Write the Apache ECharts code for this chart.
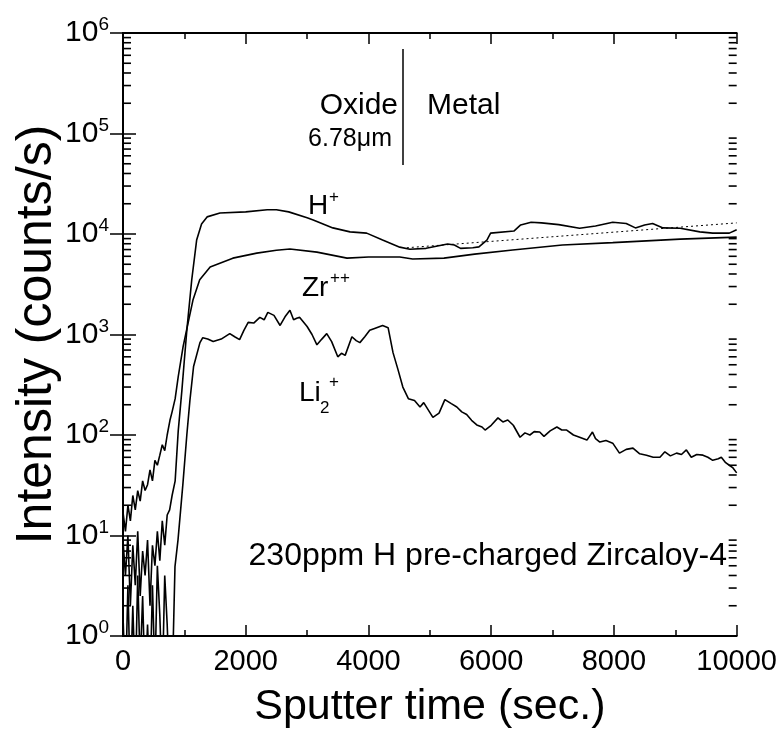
<!DOCTYPE html>
<html>
<head>
<meta charset="utf-8">
<script src="https://cdn.jsdelivr.net/npm/echarts@6/dist/echarts.min.js"></script>
<style>
  html, body { margin: 0; padding: 0; background: #fff; }
  #chart { width: 780px; height: 743px; }
</style>
</head>
<body>
<div id="chart"></div>
<script>
// SIMS depth profile, [sputter time (s), intensity (counts/s)]
const hPlus = [
  [0, 8.9], [40, 4], [80, 10], [120, 2], [160, 8], [200, 3.2], [240, 11], [280, 2.5],
  [320, 7], [360, 4], [400, 9], [440, 2], [480, 8], [520, 5], [560, 11], [600, 5.6],
  [640, 14], [680, 8], [720, 16], [760, 18], [800, 25], [850, 35], [900, 110], [960, 280],
  [1000, 560], [1040, 1100], [1120, 3500], [1200, 8700], [1280, 12600], [1370, 14800],
  [1580, 16200], [2000, 16600], [2350, 17400], [2500, 17400], [2700, 16600], [3000, 14500],
  [3100, 13800], [3420, 11500], [3700, 10500], [3970, 10200], [4230, 8700], [4510, 7400],
  [4675, 7050], [4940, 7200], [5290, 7950], [5400, 7760], [5500, 7200], [5700, 7300],
  [5800, 7450], [5930, 8700], [5990, 10200], [6370, 10700], [6480, 12300], [6650, 13100],
  [6820, 12900], [7100, 12400], [7440, 11400], [7700, 12000], [7980, 13100], [8200, 12700],
  [8350, 11500], [8500, 12300], [8630, 12700], [8800, 11500], [9080, 11400], [9400, 10500],
  [9610, 10200], [9880, 10200], [10000, 11000]
];

const zrPlus = [
  [0, 17], [40, 11], [80, 20], [120, 14], [160, 25], [200, 18], [240, 28], [280, 22],
  [320, 35], [360, 28], [400, 32], [440, 45], [480, 35], [520, 56], [560, 50], [600, 63],
  [640, 80], [680, 70], [720, 100], [765, 140], [800, 170], [850, 230], [900, 380],
  [980, 760], [1060, 1300], [1140, 2200], [1250, 3500], [1420, 4700], [1790, 5750],
  [2180, 6450], [2500, 6900], [2720, 7100], [3160, 6600], [3650, 5750], [4000, 5900],
  [4510, 5900], [4720, 5630], [5230, 5750], [5730, 6300], [6350, 6920], [7160, 7760],
  [7980, 8200], [9080, 8900], [10000, 9300]
];

const li2Plus = [
  [0, 1.6], [40, 0.3], [80, 3.2], [120, 0.3], [160, 2], [200, 0.3], [240, 4], [280, 0.5],
  [320, 2.5], [360, 0.3], [400, 1.3], [440, 0.3], [480, 3.2], [520, 0.4], [560, 5], [600, 1.6],
  [640, 0.3], [680, 4], [720, 1.3], [760, 0.3], [800, 0.3], [847, 4.9], [896, 9], [977, 33],
  [1040, 100], [1090, 220], [1150, 480], [1254, 830], [1300, 930], [1380, 900], [1470, 850],
  [1600, 900], [1740, 1020], [1820, 950], [1900, 890], [1970, 1100], [2040, 1320], [2130, 1300],
  [2230, 1480], [2300, 1400], [2360, 1660], [2460, 1550], [2560, 1230], [2640, 1500],
  [2720, 1740], [2780, 1400], [2830, 1450], [2880, 1480], [3000, 1200], [3080, 1000],
  [3160, 790], [3240, 900], [3320, 1020], [3400, 850], [3500, 600], [3560, 650], [3620, 620],
  [3730, 950], [3800, 870], [3860, 830], [3940, 950], [4020, 1100], [4100, 1150], [4230, 1230],
  [4320, 1170], [4400, 660], [4480, 450], [4560, 300], [4650, 230], [4750, 220], [4840, 190],
  [4900, 210], [5050, 150], [5150, 165], [5245, 225], [5350, 205], [5440, 190], [5520, 170],
  [5600, 160], [5680, 140], [5765, 126], [5850, 120], [5900, 112], [6000, 125], [6110, 148],
  [6190, 135], [6270, 141], [6360, 125], [6470, 95], [6550, 105], [6630, 100], [6700, 108],
  [6790, 107], [6860, 97], [6960, 110], [7070, 120], [7150, 112], [7230, 112], [7340, 100],
  [7440, 95], [7560, 89], [7650, 107], [7700, 92], [7770, 85], [7870, 88], [7980, 83],
  [8090, 66], [8200, 72], [8310, 74], [8420, 65], [8530, 63], [8640, 60], [8750, 60],
  [8830, 68], [8920, 62], [9020, 66], [9100, 64], [9180, 71], [9260, 60], [9350, 64],
  [9450, 63], [9530, 60], [9610, 56], [9700, 58], [9750, 60], [9820, 53], [9880, 50],
  [9940, 47], [10000, 42]
];

// dotted baseline under H+ in the metal
const hBaseline = [[4625, 7300], [10000, 12900]];

// oxide / metal interface marker
const interfaceX = 4560;
const interfaceY = [48600, 692000];

// minor log ticks (2..9 per decade)
const minorYTicks = [
  2, 3, 4, 5, 6, 7, 8, 9,
  20, 30, 40, 50, 60, 70, 80, 90,
  200, 300, 400, 500, 600, 700, 800, 900,
  2000, 3000, 4000, 5000, 6000, 7000, 8000, 9000,
  20000, 30000, 40000, 50000, 60000, 70000, 80000, 90000,
  200000, 300000, 400000, 500000, 600000, 700000, 800000, 900000
];

const FONT = '"Liberation Sans", Arial, sans-serif';
const chart = echarts.init(document.getElementById('chart'));

const yAxisBase = {
  type: 'log',
  logBase: 10,
  min: 1,
  max: 1000000,
  splitNumber: 6,
  axisLine: { show: true, lineStyle: { color: '#000', width: 2 } },
  axisTick: { show: true, inside: true, length: 13, lineStyle: { color: '#000', width: 1.5 } },
  splitLine: { show: false }
};
const xAxisBase = {
  type: 'value',
  min: 0,
  max: 10000,
  interval: 2000,
  axisLine: { show: true, onZero: false, lineStyle: { color: '#000', width: 2 } },
  axisTick: { show: true, inside: true, length: 11, lineStyle: { color: '#000', width: 1.5 } },
  minorTick: { show: true, splitNumber: 2, length: 6, lineStyle: { color: '#000', width: 1.5 } },
  splitLine: { show: false }
};

function lineSeries(name, data) {
  return {
    name: name,
    type: 'line',
    data: data,
    showSymbol: false,
    symbol: 'none',
    clip: true,
    lineStyle: { color: '#000', width: 1.6 },
    animation: false
  };
}

// short inward tick at each minor value; side = 0 (left) or 10000 (right)
function minorTickSeries(side, dir) {
  return {
    type: 'custom',
    silent: true,
    z: 5,
    clip: false,
    data: minorYTicks.map(function (v) { return [side, v]; }),
    renderItem: function (params, api) {
      const p = api.coord([api.value(0), api.value(1)]);
      return {
        type: 'line',
        shape: { x1: p[0], y1: p[1], x2: p[0] + dir * 8, y2: p[1] },
        style: { stroke: '#000', lineWidth: 1.6 }
      };
    }
  };
}

function txt(text, x, y, size, align) {
  return {
    type: 'text',
    x: x,
    y: y,
    style: {
      text: text,
      fontSize: size,
      fontFamily: FONT,
      fill: '#000',
      align: align || 'left',
      verticalAlign: 'middle'
    }
  };
}

const option = {
  animation: false,
  backgroundColor: '#fff',
  grid: { left: 123, right: 43, top: 33, bottom: 107 },
  xAxis: [
    Object.assign({}, xAxisBase, {
      position: 'bottom',
      name: 'Sputter time (sec.)',
      nameLocation: 'middle',
      nameGap: 50,
      nameTextStyle: { fontSize: 43, fontFamily: FONT, color: '#000' },
      axisLabel: {
        margin: 11, fontSize: 29, fontFamily: FONT, color: '#000',
        formatter: function (v) { return String(v); }
      }
    }),
    Object.assign({}, xAxisBase, {
      position: 'top',
      axisLabel: { show: false }
    })
  ],
  yAxis: [
    Object.assign({}, yAxisBase, {
      position: 'left',
      name: 'Intensity (counts/s)',
      nameLocation: 'middle',
      nameGap: 61,
      nameMoveOverlap: false,
      nameTextStyle: { fontSize: 50, fontFamily: FONT, color: '#000' },
      axisLabel: {
        margin: 14,
        color: '#000',
        formatter: function (v) {
          return '{b|10}{s|' + Math.round(Math.log10(v)) + '}';
        },
        rich: {
          b: { fontSize: 30, fontFamily: FONT, color: '#000' },
          s: { fontSize: 19, fontFamily: FONT, color: '#000', padding: [0, 0, 16, 0] }
        }
      }
    }),
    Object.assign({}, yAxisBase, {
      position: 'right',
      axisLabel: { show: false }
    })
  ],
  series: [
    lineSeries('H+', hPlus),
    lineSeries('Zr++', zrPlus),
    lineSeries('Li2+', li2Plus),
    {
      name: 'baseline',
      type: 'line',
      data: hBaseline,
      showSymbol: false,
      symbol: 'none',
      lineStyle: { color: '#000', width: 1, type: [2, 3] },
      markLine: {
        silent: true,
        symbol: 'none',
        label: { show: false },
        lineStyle: { color: '#000', width: 1.5, type: 'solid' },
        data: [[{ coord: [interfaceX, interfaceY[0]] }, { coord: [interfaceX, interfaceY[1]] }]]
      }
    },
    minorTickSeries(0, 1),
    minorTickSeries(10000, -1)
  ],
  graphic: [
    txt('Oxide', 398, 106, 30, 'right'),
    txt('6.78\u03bcm', 392, 139, 25, 'right'),
    txt('Metal', 427, 106, 30, 'left'),
    txt('H', 308, 206, 28),
    txt('+', 329, 197, 17),
    txt('Zr', 302, 288, 28),
    txt('++', 330, 278, 17),
    txt('Li', 299, 393, 28),
    txt('2', 320, 408, 17),
    txt('+', 329, 382, 17),
    txt('230ppm H pre-charged Zircaloy-4', 727, 556, 32, 'right')
  ]
};

chart.setOption(option);
</script>
</body>
</html>
